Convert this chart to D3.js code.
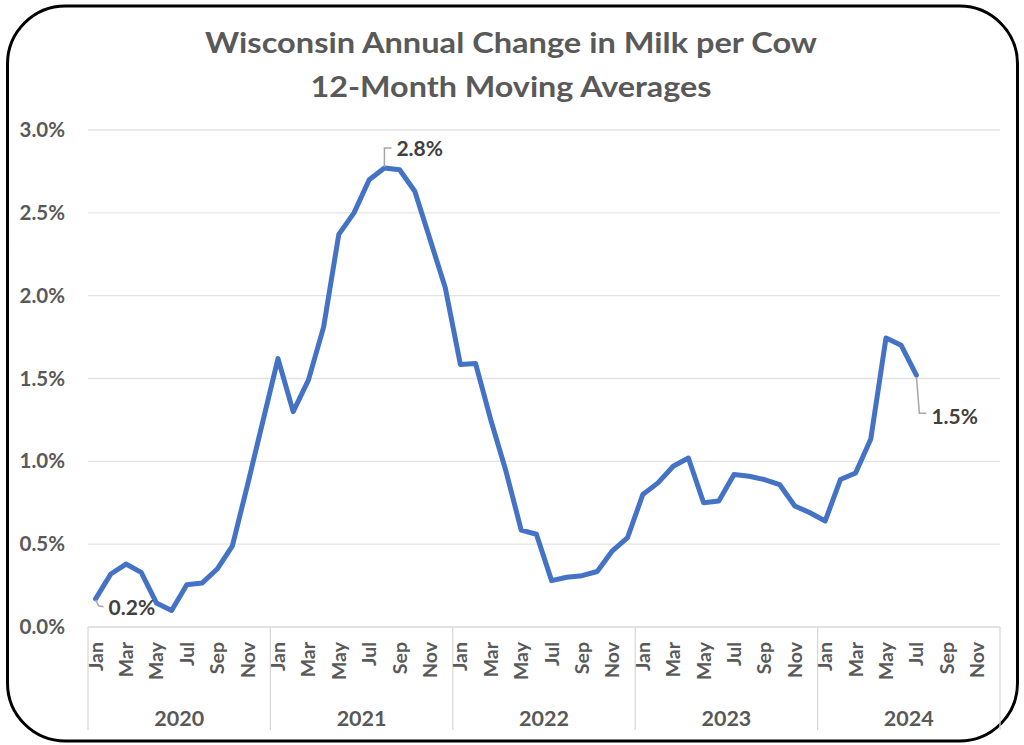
<!DOCTYPE html>
<html>
<head>
<meta charset="utf-8">
<script src="https://cdn.jsdelivr.net/npm/d3@7/dist/d3.min.js"></script>
<style>
  html, body { margin: 0; padding: 0; background: #ffffff; }
  svg { display: block; }
  text { font-family: Lato, "Open Sans", "DejaVu Sans", sans-serif; font-weight: bold; }
</style>
</head>
<body>
<svg id="chart" width="1024" height="745"></svg>
<script>
// ---- data ----
const titleLines = ["Wisconsin Annual Change in Milk per Cow", "12-Month Moving Averages"];
const years = ["2020", "2021", "2022", "2023", "2024"];
const months = ["Jan","Feb","Mar","Apr","May","Jun","Jul","Aug","Sep","Oct","Nov","Dec"];
const shownMonths = ["Jan","Mar","May","Jul","Sep","Nov"];
const yTicks = [0, 0.5, 1.0, 1.5, 2.0, 2.5, 3.0];
// annual change in milk per cow, 12-month moving average, % (Jan 2020 - Jul 2024)
const values2020 = [0.17, 0.32, 0.38, 0.33, 0.145, 0.10, 0.255, 0.265, 0.35, 0.49, 0.86, 1.24];
const values2021 = [1.62, 1.30, 1.49, 1.81, 2.37, 2.50, 2.70, 2.77, 2.76, 2.63, 2.34, 2.05];
const values2022 = [1.585, 1.59, 1.25, 0.94, 0.585, 0.56, 0.28, 0.30, 0.31, 0.335, 0.46, 0.54];
const values2023 = [0.80, 0.87, 0.97, 1.02, 0.75, 0.76, 0.92, 0.91, 0.89, 0.86, 0.73, 0.69];
const values2024 = [0.64, 0.89, 0.93, 1.135, 1.745, 1.70, 1.52];
const labelled = [
  { index: 0, text: "0.2%", pos: "below" },
  { index: 19, text: "2.8%", pos: "above" },
  { index: 54, text: "1.5%", pos: "right" }
];

// ---- build ----
const categories = [];
years.forEach(y => months.forEach(m => categories.push({ year: y, month: m })));
const series = [].concat(values2020, values2021, values2022, values2023, values2024)
  .map((v, i) => ({ i, v }));

const svg = d3.select("#chart");
const plot = { left: 88, right: 1000, top: 130, bottom: 627 };

// outer rounded frame
svg.append("rect")
  .attr("x", 7.5).attr("y", 6).attr("width", 1010).attr("height", 735)
  .attr("rx", 58).attr("ry", 58)
  .attr("fill", "#ffffff").attr("stroke", "#000000").attr("stroke-width", 3);

const x = d3.scaleBand().domain(d3.range(categories.length)).range([plot.left, plot.right]).padding(0);
const y = d3.scaleLinear().domain([0, 3]).range([plot.bottom, plot.top]);
const cx = i => x(i) + x.bandwidth() / 2;

// title
const titleW = [612, 401];
svg.selectAll("text.title").data(titleLines).enter().append("text")
  .attr("class", "title")
  .attr("x", 511).attr("y", (d, i) => 53 + i * 44)
  .attr("text-anchor", "middle")
  .attr("font-size", 29)
  .attr("fill", "#595959")
  .attr("textLength", (d, i) => titleW[i])
  .attr("lengthAdjust", "spacingAndGlyphs")
  .text(d => d);

// gridlines
svg.append("g").selectAll("line").data(yTicks.filter(t => t > 0)).enter().append("line")
  .attr("x1", plot.left).attr("x2", plot.right)
  .attr("y1", d => y(d)).attr("y2", d => y(d))
  .attr("stroke", "#e3e3e3").attr("stroke-width", 1.3);

// y axis labels
const yAxis = d3.axisLeft(y).tickValues(yTicks).tickFormat(d => d.toFixed(1) + "%").tickSize(0).tickPadding(0);
const gy = svg.append("g").attr("transform", "translate(65,0)").call(yAxis);
gy.select(".domain").remove();
gy.selectAll("text").attr("font-size", 20.5).attr("fill", "#595959")
  .style("font-family", "Lato, sans-serif").style("font-weight", "bold");

// x axis line
svg.append("line")
  .attr("x1", plot.left).attr("x2", plot.right)
  .attr("y1", plot.bottom).attr("y2", plot.bottom)
  .attr("stroke", "#d9d9d9").attr("stroke-width", 1.3);

// year separators
const yearBounds = d3.range(years.length + 1).map(k => k * 12);
svg.append("g").selectAll("line").data(yearBounds).enter().append("line")
  .attr("x1", d => d < categories.length ? x(d) : plot.right)
  .attr("x2", d => d < categories.length ? x(d) : plot.right)
  .attr("y1", plot.bottom).attr("y2", 730)
  .attr("stroke", "#d9d9d9").attr("stroke-width", 1.3);

// month labels
svg.append("g").selectAll("text").data(categories.map((c, i) => ({ c, i })).filter(d => shownMonths.includes(d.c.month)))
  .enter().append("text")
  .attr("transform", d => `translate(${cx(d.i)},642) rotate(-90)`)
  .attr("text-anchor", "end")
  .attr("dy", "0.36em")
  .attr("font-size", 19.5)
  .attr("fill", "#595959")
  .text(d => d.c.month);

// year labels
svg.append("g").selectAll("text").data(years).enter().append("text")
  .attr("x", (d, k) => (x(k * 12) + (k * 12 + 12 < categories.length ? x(k * 12 + 12) : plot.right)) / 2)
  .attr("y", 726)
  .attr("text-anchor", "middle")
  .attr("font-size", 21.5)
  .attr("fill", "#595959")
  .text(d => d);

// line
const line = d3.line().x(d => cx(d.i)).y(d => y(d.v));
svg.append("path").datum(series)
  .attr("d", line)
  .attr("fill", "none")
  .attr("stroke", "#4472C4")
  .attr("stroke-width", 5)
  .attr("stroke-linejoin", "round")
  .attr("stroke-linecap", "round");

// data labels with leader lines
labelled.forEach(l => {
  const px = cx(l.index), py = y(series[l.index].v);
  let path, tx, ty;
  if (l.pos === "below") {
    path = `M${px},${py + 1} L${px + 3},${py + 7} L${px + 8},${py + 8}`;
    tx = px + 13; ty = py + 9;
  } else if (l.pos === "above") {
    path = `M${px},${py - 1} L${px},${py - 20} L${px + 7},${py - 20}`;
    tx = px + 12; ty = py - 20;
  } else {
    path = `M${px},${py + 2} L${px + 3},${py + 38} L${px + 10},${py + 38}`;
    tx = px + 15; ty = py + 41;
  }
  svg.append("path").attr("d", path).attr("fill", "none")
    .attr("stroke", "#a6a6a6").attr("stroke-width", 1.5);
  svg.append("text")
    .attr("x", tx).attr("y", ty).attr("dy", "0.36em")
    .attr("font-size", 21)
    .attr("fill", "#404040")
    .text(l.text);
});
</script>
</body>
</html>
